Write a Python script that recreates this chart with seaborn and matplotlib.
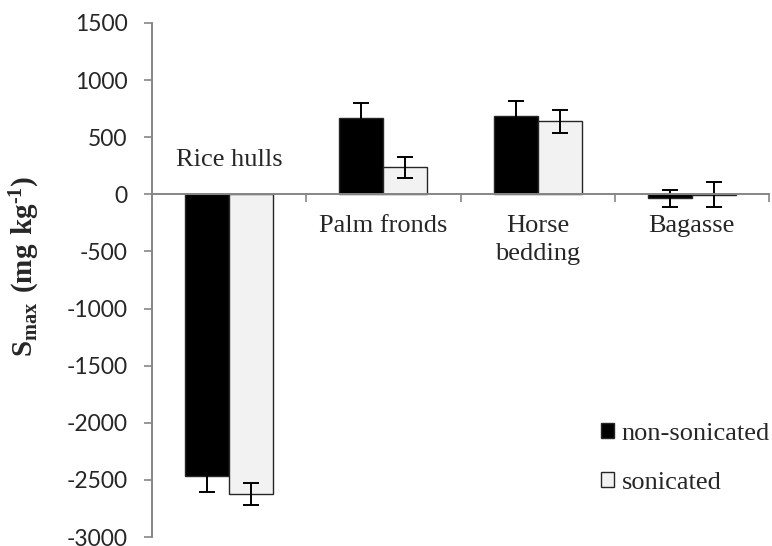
import pandas as pd
import matplotlib
matplotlib.use('Agg')
import matplotlib.pyplot as plt
import seaborn as sns

# values
materials = ['Rice hulls', 'Palm fronds', 'Horse bedding', 'Bagasse']
treatments = ['non-sonicated', 'sonicated']
smax_non = [-2470, 670, 690, -35]
smax_son = [-2625, 238, 640, -5]
err_non = [135, 130, 130, 75]
err_son = [98, 92, 100, 110]
y_ticks = [-3000, -2500, -2000, -1500, -1000, -500, 0, 500, 1000, 1500]

df = pd.DataFrame({
    'material': materials * 2,
    'treatment': [treatments[0]] * 4 + [treatments[1]] * 4,
    'smax': smax_non + smax_son,
})

sns.set_style('white')
plt.rcParams['font.family'] = ['Lato', 'DejaVu Sans']
plt.rcParams['axes.unicode_minus'] = False
plt.rcParams['mathtext.fontset'] = 'custom'
plt.rcParams['mathtext.rm'] = 'Liberation Serif'
plt.rcParams['mathtext.bf'] = 'Liberation Serif:bold'

fig = plt.figure(figsize=(7.72, 5.46), dpi=100)
ax = fig.add_axes([152 / 772, 1 - 537 / 546, (769 - 152) / 772, (537 - 23) / 546])

sns.barplot(data=df, x='material', y='smax', hue='treatment',
            palette=['black', '#f2f2f2'], edgecolor='#262626', linewidth=1,
            width=0.57, errorbar=None, ax=ax, zorder=2)

# error bars on top of each bar
for cont, errs in zip(ax.containers, [err_non, err_son]):
    xs = [b.get_x() + b.get_width() / 2 for b in cont]
    ys = list(cont.datavalues)
    ax.errorbar(xs, ys, yerr=errs, fmt='none', ecolor='black',
                elinewidth=1.4, capsize=6, capthick=1.4, zorder=3)

ax.set_ylim(-3000, 1500)
ax.set_xlim(-0.5, 3.5)
ax.set_yticks(y_ticks)
ax.tick_params(axis='y', labelsize=16.5, length=6, width=1.2, color='#868686',
               direction='out', left=True, pad=11.5)
ax.set_xticks([-0.5, 0.5, 1.5, 2.5, 3.5])
ax.set_xticklabels([])
ax.tick_params(axis='x', length=6, width=1.2, color='#868686',
               direction='out', bottom=True)

for s in ['top', 'right']:
    ax.spines[s].set_visible(False)
ax.spines['left'].set_color('#868686')
ax.spines['left'].set_linewidth(1.4)
ax.spines['bottom'].set_position(('data', 0))
ax.spines['bottom'].set_color('#868686')
ax.spines['bottom'].set_linewidth(1.4)
ax.spines['bottom'].set_zorder(4)

ax.set_xlabel('')
ax.set_ylabel('$\\mathbf{S}_{\\mathbf{max}}$$\\mathbf{\\ (mg\\ kg^{\u20101})}$', fontsize=21)
ax.yaxis.set_label_coords(-0.178, 0.527)

# category labels (Rice hulls sits above the axis, the rest below)
serif = ['Liberation Serif', 'DejaVu Serif']
ax.text(0, 245, 'Rice hulls', ha='center', va='baseline', fontsize=19, family=serif)
ax.text(1, -330, 'Palm fronds', ha='center', va='baseline', fontsize=19, family=serif)
ax.text(2, -330, 'Horse', ha='center', va='baseline', fontsize=19, family=serif)
ax.text(2, -575, 'bedding', ha='center', va='baseline', fontsize=19, family=serif)
ax.text(3, -330, 'Bagasse', ha='center', va='baseline', fontsize=19, family=serif)

sns.move_legend(ax, loc='upper left', bbox_to_anchor=(601 / 772, 1 - 423 / 546),
                bbox_transform=fig.transFigure, frameon=False, title=None,
                prop={'family': serif, 'size': 19}, handlelength=0.5,
                handleheight=0.5, handletextpad=0.28, labelspacing=1.02,
                borderpad=0, borderaxespad=0)

fig.savefig('out.png', dpi=100)
